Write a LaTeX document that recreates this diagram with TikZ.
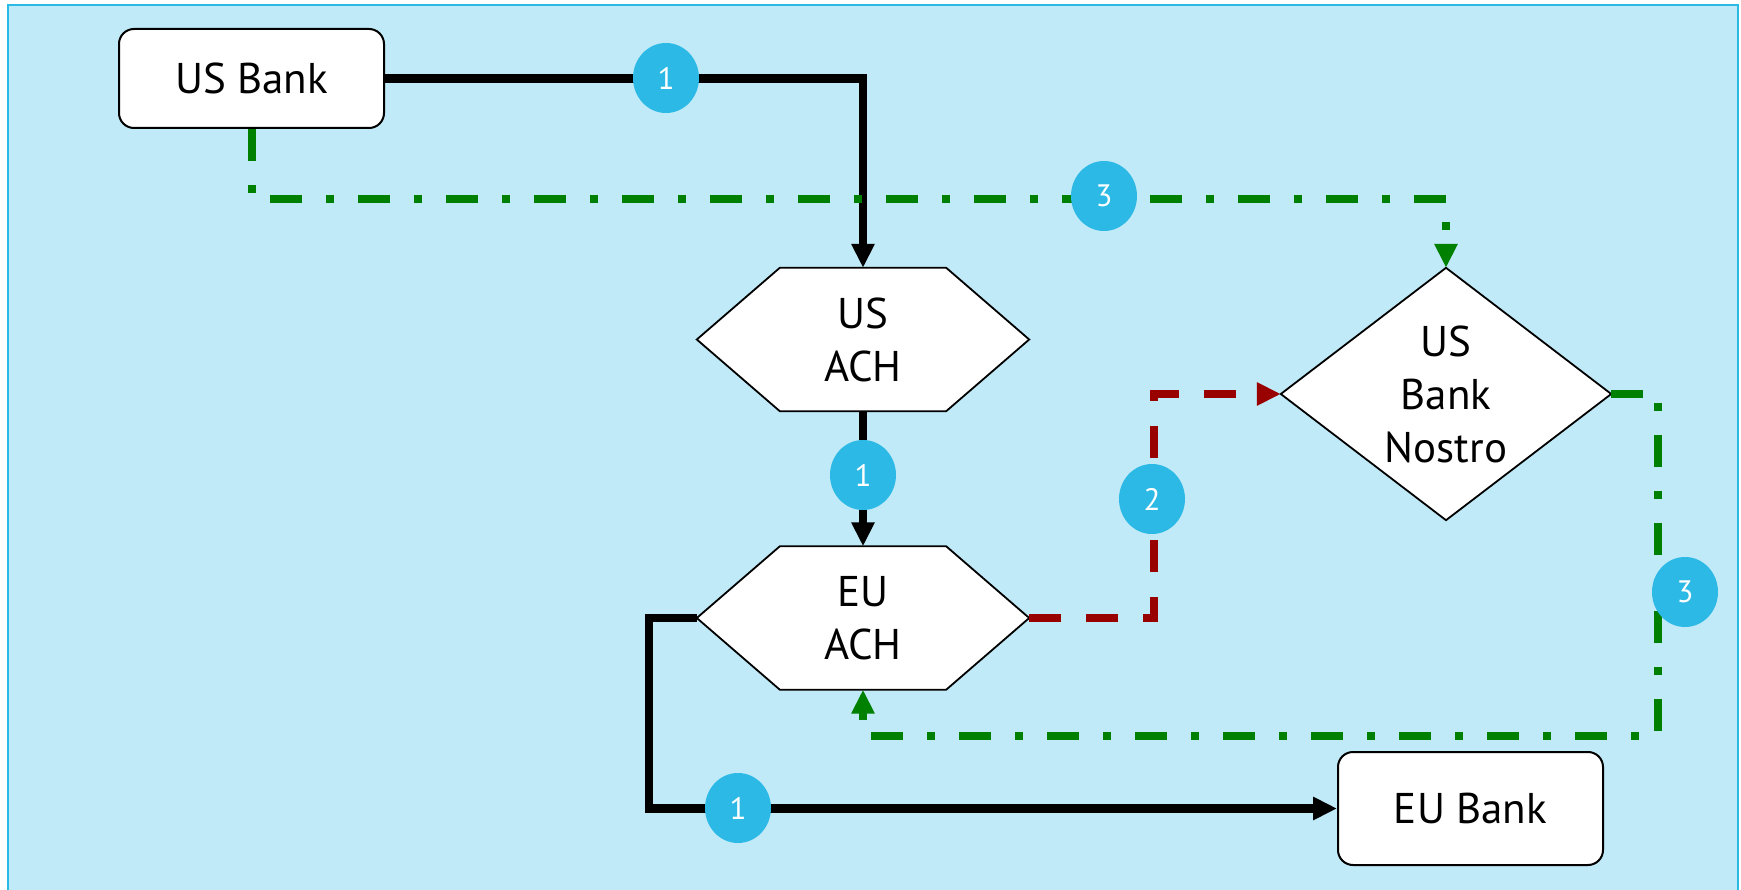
\documentclass[tikz,border=0pt]{standalone}
\usepackage{fontspec}
\setmainfont{PT Sans}
\usetikzlibrary{arrows.meta,shapes.geometric}
\definecolor{bgblue}{HTML}{C0EAF7}
\definecolor{frameblue}{HTML}{29BBE6}
\definecolor{badgeblue}{HTML}{2CB9E6}
\definecolor{grn}{HTML}{008000}
\definecolor{dred}{HTML}{990000}
\newcommand\mainfs{\fontsize{43}{53}\selectfont}
\newcommand\badgefs{\fontsize{31}{32}\selectfont}
\begin{document}
\begin{tikzpicture}[x=1pt,y=-1pt,
  bank/.style={draw=black, line width=2pt, fill=white, rounded corners=15pt, minimum width=265pt, inner sep=0pt, font=\mainfs},
  ghost/.style={draw=none, fill=none, inner sep=0pt},
  outl/.style={draw=black, line width=1.8pt, fill=white, line join=miter},
  lbl/.style={inner sep=0pt, align=center, font=\mainfs},
  flow/.style={black, line width=8.5pt},
  backflow/.style={dred, line width=8pt, dash pattern=on 32pt off 25pt},
  settle/.style={grn, line width=8pt, dash pattern=on 32pt off 24pt on 8pt off 24pt},
  tip/.style={-{Triangle[length=24pt,width=22pt]}},
  badge/.style={ellipse, fill=badgeblue, minimum width=66pt, minimum height=70pt, inner sep=0pt, text=white, font=\badgefs}
]
\useasboundingbox (0,0) rectangle (1741,890);
\fill[white] (0,0) rectangle (1741,890);
\fill[bgblue] (8,5) rectangle (1738,890);
\draw[frameblue, line width=2.5pt] (8,890) -- (8,5) -- (1738,5) -- (1738,890);

% nodes
\node[bank, minimum height=99pt] (usbank) at (251.5,78.5) {US Bank};
\node[bank, minimum height=113pt] (eubank) at (1470.5,808.5) {EU Bank};

\node[ghost, minimum width=332pt, minimum height=143pt] (usach) at (863,339.5) {};
\filldraw[outl] (usach.west) -- ([xshift=83pt]usach.north west) -- ([xshift=-83pt]usach.north east) -- (usach.east) -- ([xshift=-83pt]usach.south east) -- ([xshift=83pt]usach.south west) -- cycle;
\node[lbl] (usachtxt) at (usach.center) {US\\ACH};

\node[ghost, minimum width=332pt, minimum height=143pt] (euach) at (863,618) {};
\filldraw[outl] (euach.west) -- ([xshift=83pt]euach.north west) -- ([xshift=-83pt]euach.north east) -- (euach.east) -- ([xshift=-83pt]euach.south east) -- ([xshift=83pt]euach.south west) -- cycle;
\node[lbl] (euachtxt) at (euach.center) {EU\\ACH};

\node[ghost, minimum width=330pt, minimum height=252pt] (nostro) at (1446,394) {};
\filldraw[outl] (nostro.north) -- (nostro.east) -- (nostro.south) -- (nostro.west) -- cycle;
\node[lbl] (nostrotxt) at (nostro.center) {US\\Bank\\Nostro};

% connectors
\draw[flow,tip] (usbank.east) -| (usach.north);
\draw[flow,tip] (usach.south) -- (euach.north);
\draw[flow,tip] (euach.west) -- ++(-48,0) |- (eubank.west);
\draw[backflow,tip] (euach.east) -- ++(125,0) |- (nostro.west);
\draw[settle,tip] (usbank.south) -- ++(0,70) -| (nostro.north);
\coordinate (gcorner) at (1658,736);
\draw[settle,tip] (nostro.east) -| (gcorner) -| (euach.south);

% badges
\node[badge] (b1top) at (666,78) {1};
\node[badge] (b1mid) at (863,475) {1};
\node[badge] (b1bot) at (738,808) {1};
\node[badge] (b2) at (1152,499) {2};
\node[badge] (b3top) at (1104,196) {3};
\node[badge] (b3right) at (1685,592) {3};
\end{tikzpicture}
\end{document}
